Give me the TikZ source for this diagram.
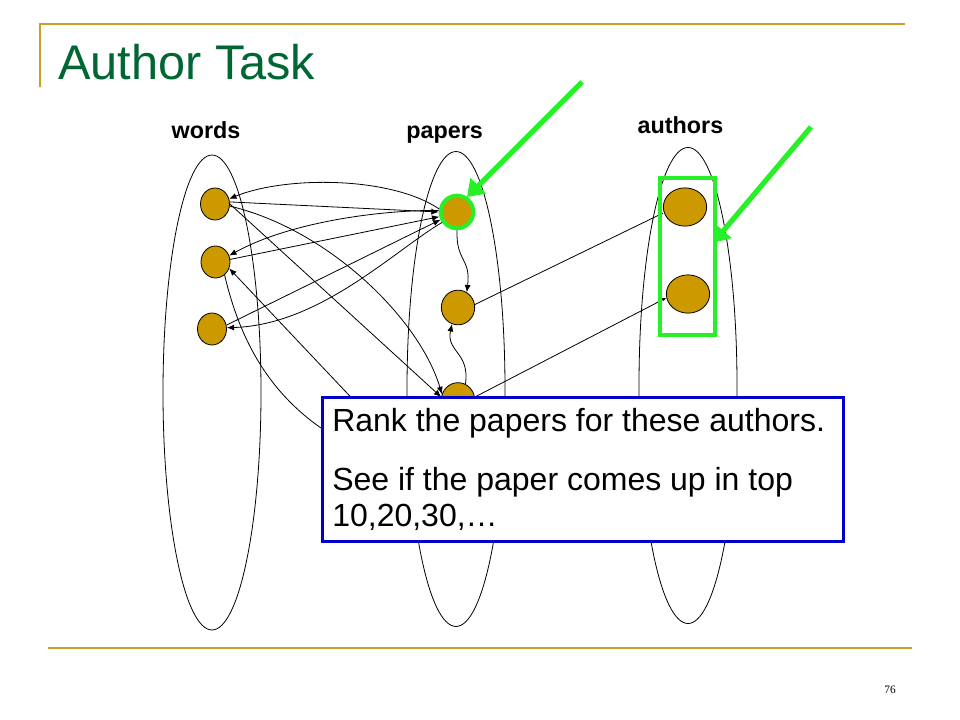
\documentclass[tikz,border=0pt]{standalone}
\usepackage{fontspec}
\setmainfont{Liberation Sans}
\newfontfamily\serifpn{Liberation Serif}
\usetikzlibrary{arrows.meta,shapes.geometric}
\definecolor{gold}{RGB}{200,160,40}
\definecolor{titlegreen}{RGB}{0,102,51}
\definecolor{nodegold}{RGB}{204,153,0}
\definecolor{brightgreen}{RGB}{40,240,40}
\definecolor{boxblue}{RGB}{0,0,204}
\begin{document}
\begin{tikzpicture}[x=0.75pt,y=-0.75pt,
 dot/.style={ellipse,draw=black,line width=0.6pt,fill=nodegold,inner sep=0pt},
 wdot/.style={dot,minimum width=21.75pt,minimum height=24pt},
 pdot/.style={dot,minimum width=25pt,minimum height=26pt},
 adot/.style={dot,minimum width=32.5pt,minimum height=28.7pt},
 group/.style={draw=black,line width=0.6pt},
 edge/.style={draw=black,line width=0.6pt},
 arr/.style={edge,-{Latex[length=5.5pt,width=4.5pt]}},
 smallarr/.style={edge,-{Latex[length=3pt,width=2.5pt]}},
 lbl/.style={font=\bfseries\fontsize{17.5}{20}\selectfont,anchor=base,inner sep=0pt},
 pointer/.style={draw=brightgreen,line width=3.9pt,-{Triangle[length=12pt,width=16pt]}},
 boxtext/.style={font=\fontsize{24}{28}\selectfont,anchor=base west,inner sep=0pt}
]
\useasboundingbox (0,0) rectangle (960,720);

% frame lines
\draw[gold,line width=1.5pt] (40,87) -- (40,24) -- (905,24);
\draw[gold,line width=1.5pt] (48,648) -- (912,648);

% title and page number
\node[font=\fontsize{36.5}{40}\selectfont,text=titlegreen,anchor=base west,inner sep=0pt] (title) at (58,80) {Author Task};
\node[font=\serifpn\fontsize{8.5}{9}\selectfont,anchor=base,inner sep=0pt] (pg) at (890,693.3) {76};

% column labels
\node[lbl] (lw) at (206,139) {words};
\node[lbl] (lp) at (444.7,139) {papers};
\node[lbl] (la) at (680.5,133.3) {authors};

% group ellipses
\draw[group] (212,392.5) ellipse [x radius=36.75pt, y radius=178.1pt];
\draw[group] (456,389) ellipse [x radius=36.75pt, y radius=178.1pt];
\draw[group] (688,385.5) ellipse [x radius=36.75pt, y radius=178.5pt];

% nodes
\node[wdot] (W1) at (215,204) {};
\node[wdot] (W2) at (215.5,262) {};
\node[wdot] (W3) at (212,329) {};
\node[pdot,draw=brightgreen,line width=3pt,minimum width=24.5pt,minimum height=24.5pt] (P1) at (457,212) {};
\node[pdot] (P2) at (458,307.5) {};
\node[pdot] (P3) at (458,400) {};
\node[adot] (A1) at (685,207) {};
\node[adot] (A2) at (688,294) {};

% hidden ends behind the text box
\coordinate (h1) at (430,481);
\coordinate (h2) at (340,440);

% word - paper edges
\draw[arr] (P1.170) .. controls (390,176) and (285,176) .. (W1.20);
\draw[arr] (W1.8) -- (P1.180);
\draw[arr] (P1.175) .. controls (380,210) and (290,222) .. (W2.25);
\draw[arr] (W2.10) -- (P1.195);
\draw[arr] (W3.15) -- (P1.205);
\draw[arr] (P1.215) .. controls (395,250) and (320,325) .. (W3.5);
\draw[arr] (W1.0) -- (P3.170);
\draw[arr] (W1.-8) .. controls (330,230) and (420,320) .. (P3.160);
\draw[arr] (h1) -- (W2.-25);
\draw[edge] (W2.-55) .. controls (240,340) and (270,400) .. (h2);

% paper - paper edges
\draw[arr] (P1.-90) .. controls (456,262) and (471,258) .. (P2.60);
\draw[arr] (P3.65) .. controls (470,352) and (446,352) .. (P2.-110);

% paper - author edges
\draw[smallarr] (P2.10) -- (A1.195);
\draw[smallarr] (P3.10) -- (A2.190);

% selection of authors
\node[draw=brightgreen,line width=3pt,minimum width=41.5pt,minimum height=117.5pt,inner sep=0pt] (sel) at (687.7,256.3) {};

% green pointers
\coordinate (g1s) at (582,82);
\coordinate (g1e) at (467,197);
\coordinate (g2s) at (811,127);
\coordinate (g2e) at (713,243);
\draw[pointer] (g1s) -- (g1e);
\draw[pointer] (g2s) -- (g2e);

% text box
\node[draw=boxblue,fill=white,line width=2.25pt,minimum width=390.75pt,minimum height=108pt,inner sep=0pt] (box) at (583,469.5) {};
\node[boxtext] (t1) at (332,431.7) {Rank the papers for these authors.};
\node[boxtext] (t2) at (332,490) {See if the paper comes up in top};
\node[boxtext] (t3) at (332,526.7) {10,20,30,…};
\end{tikzpicture}
\end{document}
